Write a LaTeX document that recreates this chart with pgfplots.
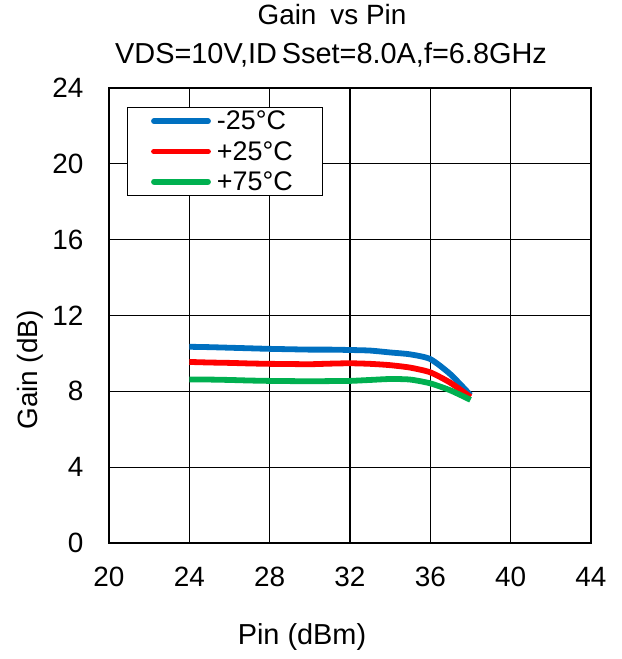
\documentclass[border=0pt]{standalone}
\usepackage{pgfplots}
\pgfplotsset{compat=1.18}
\usepackage{fontspec}
\setmainfont{Liberation Sans}
\definecolor{cblue}{RGB}{0,112,192}
\definecolor{cred}{RGB}{255,0,0}
\definecolor{cgreen}{RGB}{0,176,80}
\begin{document}
\begin{tikzpicture}
\useasboundingbox (-109bp,-116bp) rectangle (513bp,543bp);
\begin{axis}[
  at={(0,0)}, anchor=south west,
  scale only axis, width=482bp, height=455bp,
  xmin=20, xmax=44, ymin=0, ymax=24,
  xtick={20,24,...,44}, ytick={0,4,...,24},
  grid=major,
  major grid style={black, line width=1.2bp},
  axis line style={black, line width=1.2bp},
  tick style={draw=none},
  /pgf/number format/assume math mode=true,
  tick label style={font=\fontsize{28}{30}\selectfont},
  xticklabel style={yshift=-21bp},
  yticklabel style={xshift=-22bp},
  legend style={at={(18bp,436bp)}, anchor=north west, draw=black, line width=1.2bp,
    font=\fontsize{27}{29}\selectfont, inner sep=1.5bp, row sep=6bp,
    legend cell align=left},
  legend image code/.code={\path (0bp,0bp) (80bp,0bp); \draw[#1, line cap=round] (22bp,0bp) -- (76bp,0bp);},
  every axis plot/.append style={line width=5.8bp, smooth, tension=0.4},
]
\addplot[cblue] coordinates {(24,10.35) (25,10.33) (26,10.30) (27,10.27) (28,10.24) (29,10.22) (30,10.20) (31,10.20) (32,10.18) (33,10.15) (34,10.05) (35,9.95) (36,9.70) (37,8.90) (38,7.80)};
\addlegendentry{\makebox[102bp][l]{-25°C}}
\addplot[cred] coordinates {(24,9.55) (25,9.52) (26,9.50) (27,9.47) (28,9.45) (29,9.44) (30,9.43) (31,9.46) (32,9.48) (33,9.45) (34,9.38) (35,9.25) (36,9.00) (37,8.45) (38,7.70)};
\addlegendentry{\makebox[102bp][l]{+25°C}}
\addplot[cgreen] coordinates {(24,8.62) (25,8.62) (26,8.60) (27,8.57) (28,8.55) (29,8.54) (30,8.53) (31,8.54) (32,8.55) (33,8.60) (34,8.65) (35,8.62) (36,8.42) (37,8.05) (38,7.55)};
\addlegendentry{\makebox[102bp][l]{+75°C}}
\end{axis}
\node[font=\fontsize{28}{30}\selectfont] at (223bp,528bp) {Gain\enspace vs Pin};
\node[font=\fontsize{29}{31}\selectfont] at (222bp,488bp) {VDS=10V,ID\,Sset=8.0A,f=6.8GHz};
\node[font=\fontsize{29}{31}\selectfont] at (193bp,-94bp) {Pin (dBm)};
\node[font=\fontsize{28}{30}\selectfont, rotate=90] at (-79bp,173bp) {Gain (dB)};
\end{tikzpicture}
\end{document}
